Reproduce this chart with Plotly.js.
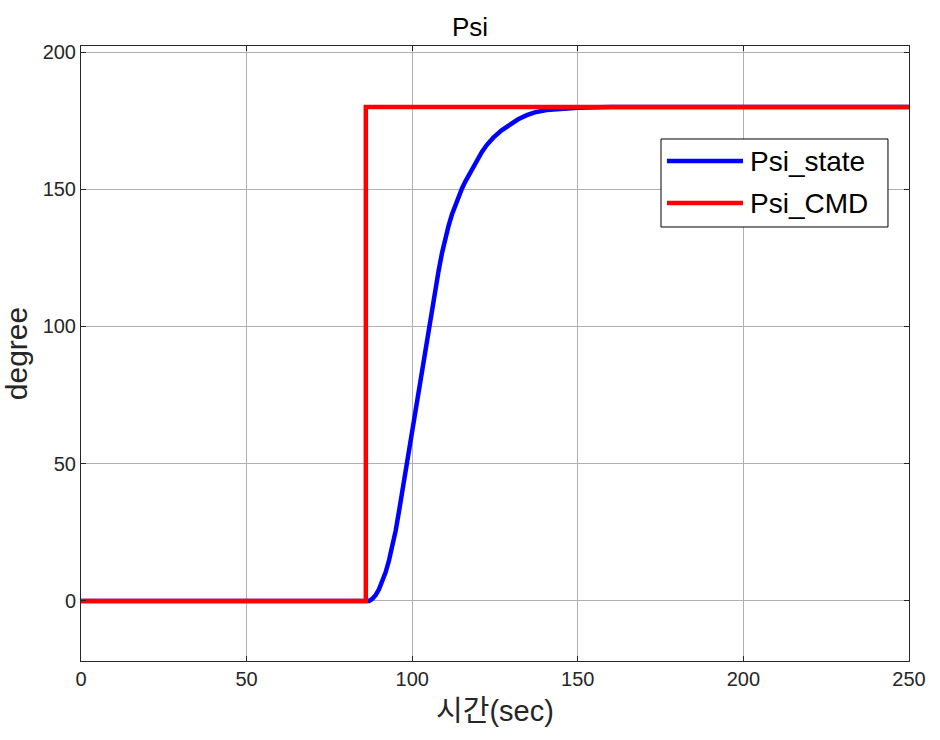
<!DOCTYPE html>
<html>
<head>
<meta charset="utf-8">
<script src="https://cdn.plot.ly/plotly-3.0.1.min.js"></script>
<style>html,body{margin:0;padding:0;background:#fff;}#chart{width:940px;height:740px;}</style>
</head>
<body>
<div id="chart"></div>
<script>
// Psi_state (blue)
const stateTime = [0, 87, 88, 89, 90, 91, 92, 93, 94, 95, 96, 97, 98.3, 100, 102, 104, 106, 107, 108, 109, 110, 111, 112, 113, 114, 115, 116, 117.5, 119.4, 121, 122.5, 124.5, 127, 129.5, 132, 134.6, 137, 140.6, 145, 150, 160, 250];
const stateDeg  = [0, 0, 0.8, 2.2, 4.3, 7, 10.5, 14.8, 19.8, 25.5, 32.5, 40, 50, 62, 77, 92, 106.5, 113.5, 120.5, 126.8, 132.2, 136.8, 140.8, 144.3, 147.4, 150.2, 152.7, 156.2, 160.3, 163.5, 166.1, 168.8, 171.5, 173.7, 175.5, 177, 178, 178.9, 179.4, 179.7, 180, 180];
// Psi_CMD (red) step command
const cmdTime = [0, 86, 86, 250];
const cmdDeg  = [0, 0, 180, 180];

const titleText = 'Psi';
const xTitle = '시간(sec)';
const yTitle = 'degree';
const seriesNames = ['Psi_state', 'Psi_CMD'];
const seriesColors = ['#0000ff', '#ff0000'];

const font = 'Liberation Sans, Arial, Noto Sans CJK KR, sans-serif';

const traces = [
  {x: stateTime, y: stateDeg, name: seriesNames[0], mode: 'lines', line: {color: seriesColors[0], width: 4.5}},
  {x: cmdTime, y: cmdDeg, name: seriesNames[1], mode: 'lines', line: {color: seriesColors[1], width: 4.5}}
];

const axisCommon = {
  showline: true, mirror: 'ticks', linecolor: '#262626', linewidth: 1,
  ticks: 'inside', ticklen: 5, tickcolor: '#262626',
  showgrid: true, gridcolor: '#b0b0b0', gridwidth: 1,
  zeroline: false,
  tickfont: {family: font, size: 20, color: '#262626'}
};

// manual legend (matching the reference's long line samples)
const legX0 = 0.7005, legX1 = 0.9746, legY0 = 0.7057, legY1 = 0.8488;
const rowY = [0.813, 0.7447];
const shapes = [{type: 'rect', xref: 'paper', yref: 'paper', x0: legX0, x1: legX1, y0: legY0, y1: legY1,
  line: {color: '#000', width: 1}, fillcolor: '#fff', layer: 'above'}];
const annotations = [];
seriesNames.forEach((n, i) => {
  shapes.push({type: 'line', xref: 'paper', yref: 'paper', x0: 0.7077, x1: 0.7995, y0: rowY[i], y1: rowY[i],
    line: {color: seriesColors[i], width: 4.5}, layer: 'above'});
  annotations.push({xref: 'paper', yref: 'paper', x: 0.806, y: rowY[i], xanchor: 'left', yanchor: 'middle',
    text: n, showarrow: false, font: {family: font, size: 28, color: '#000'}});
});

const layout = {
  width: 940, height: 740,
  paper_bgcolor: '#ffffff', plot_bgcolor: '#ffffff',
  margin: {l: 81, r: 31, t: 46, b: 79},
  title: {text: titleText, font: {family: font, size: 26, color: '#000'}, x: 0.5, xanchor: 'center', y: 0.963, yanchor: 'middle'},
  xaxis: Object.assign({}, axisCommon, {
    range: [0, 250], tickvals: [0, 50, 100, 150, 200, 250],
    title: {text: xTitle, font: {family: font, size: 29, color: '#262626'}, standoff: 11}
  }),
  yaxis: Object.assign({}, axisCommon, {
    range: [-21.9, 202.2], tickvals: [0, 50, 100, 150, 200],
    title: {text: yTitle, font: {family: font, size: 30, color: '#262626'}, standoff: 10}
  }),
  showlegend: false,
  shapes: shapes,
  annotations: annotations
};

Plotly.newPlot('chart', traces, layout, {displayModeBar: false, staticPlot: true});
</script>
</body>
</html>
